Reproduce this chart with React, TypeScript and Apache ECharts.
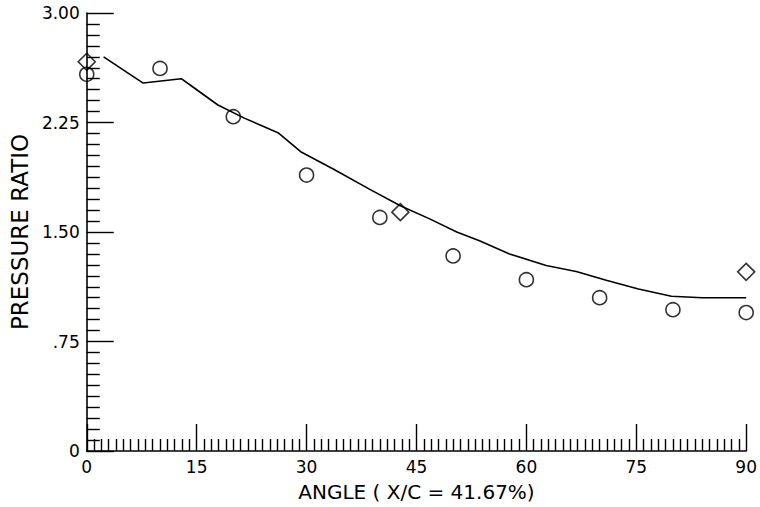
import React, { useEffect, useRef } from "react";
import * as echarts from "echarts";

const yTickValues = [0, 0.75, 1.5, 2.25, 3.0];
const yTickLabels = ["0", ".75", "1.50", "2.25", "3.00"];
const xTickLabels = ["0", "15", "30", "45", "60", "75", "90"];

// measured circles (experiment)
const circleAngles = [0, 10, 20, 30, 40, 50, 60, 70, 80, 90];
const circleRatios = [2.58, 2.62, 2.29, 1.89, 1.6, 1.336, 1.173, 1.05, 0.968, 0.948];

// diamonds
const diamondAngles = [0, 42.8, 90];
const diamondRatios = [2.666, 1.636, 1.227];

// computed line
const lineAngles = [2.3, 7.7, 12.9, 14.3, 17.9, 21.5, 26.1, 29.2, 33.7, 38.7, 42.8, 46.8, 50.5, 53.6, 57.7, 62.7, 66.8, 70.9, 75.3, 79.8, 84.0, 90];
const lineRatios = [2.7, 2.52, 2.55, 2.5, 2.37, 2.28, 2.18, 2.05, 1.93, 1.79, 1.68, 1.59, 1.5, 1.44, 1.35, 1.27, 1.23, 1.17, 1.11, 1.06, 1.05, 1.05];

const zip = (a: number[], b: number[]) => a.map((v, i) => [v, b[i]]);

export default function App() {
  const ref = useRef<HTMLDivElement>(null);
  useEffect(() => {
    if (!ref.current) return;
    const chart = echarts.init(ref.current, undefined, { renderer: "svg" });
    const black = "#000";
    const tickFont = "DejaVu Sans";
    chart.setOption({
      animation: false,
      backgroundColor: "#fff",
      grid: { left: 85, right: 12, top: 13, bottom: 54 },
      xAxis: {
        type: "value",
        min: 0,
        max: 90,
        interval: 15,
        name: "ANGLE ( X/C = 41.67%)",
        nameLocation: "middle",
        nameGap: 31,
        nameTextStyle: { color: black, fontFamily: tickFont, fontSize: 20 },
        axisLine: { show: true, onZero: false, lineStyle: { color: black, width: 1.6 } },
        axisTick: { show: true, inside: true, length: 27, lineStyle: { color: black, width: 1.4 } },
        minorTick: { show: true, splitNumber: 15, length: 12, lineStyle: { color: black, width: 1.4 } },
        axisLabel: {
          color: black,
          fontFamily: tickFont,
          fontSize: 17,
          margin: 7,
          formatter: (v: number) => xTickLabels[Math.round(v / 15)] ?? "",
        },
        splitLine: { show: false },
        minorSplitLine: { show: false },
      },
      yAxis: {
        type: "value",
        min: 0,
        max: 3,
        interval: 0.75,
        name: "PRESSURE RATIO",
        nameLocation: "middle",
        nameGap: 54,
        nameTextStyle: { color: black, fontFamily: tickFont, fontSize: 23 },
        axisLine: { show: true, onZero: false, lineStyle: { color: black, width: 1.6 } },
        axisTick: { show: true, inside: true, length: 27, lineStyle: { color: black, width: 1.4 } },
        minorTick: { show: true, splitNumber: 10, length: 13, lineStyle: { color: black, width: 1.4 } },
        axisLabel: {
          color: black,
          fontFamily: tickFont,
          fontSize: 17,
          margin: 7,
          formatter: (v: number) => {
            const i = yTickValues.findIndex((t) => Math.abs(t - v) < 1e-6);
            return i >= 0 ? yTickLabels[i] : "";
          },
        },
        splitLine: { show: false },
        minorSplitLine: { show: false },
      },
      series: [
        {
          type: "line",
          data: zip(lineAngles, lineRatios),
          showSymbol: false,
          symbol: "none",
          lineStyle: { color: black, width: 1.6 },
          z: 2,
        },
        {
          type: "scatter",
          data: zip(circleAngles, circleRatios),
          symbol: "circle",
          symbolSize: 14,
          itemStyle: { color: "rgba(0,0,0,0)", borderColor: black, borderWidth: 1.6 },
          z: 3,
        },
        {
          type: "scatter",
          data: zip(diamondAngles, diamondRatios),
          symbol: "diamond",
          symbolSize: 17,
          itemStyle: { color: "rgba(0,0,0,0)", borderColor: black, borderWidth: 1.6 },
          z: 3,
        },
      ],
    });
    return () => chart.dispose();
  }, []);
  return <div ref={ref} style={{ width: 760, height: 507, position: "absolute", left: 0, top: 0 }} />;
}
